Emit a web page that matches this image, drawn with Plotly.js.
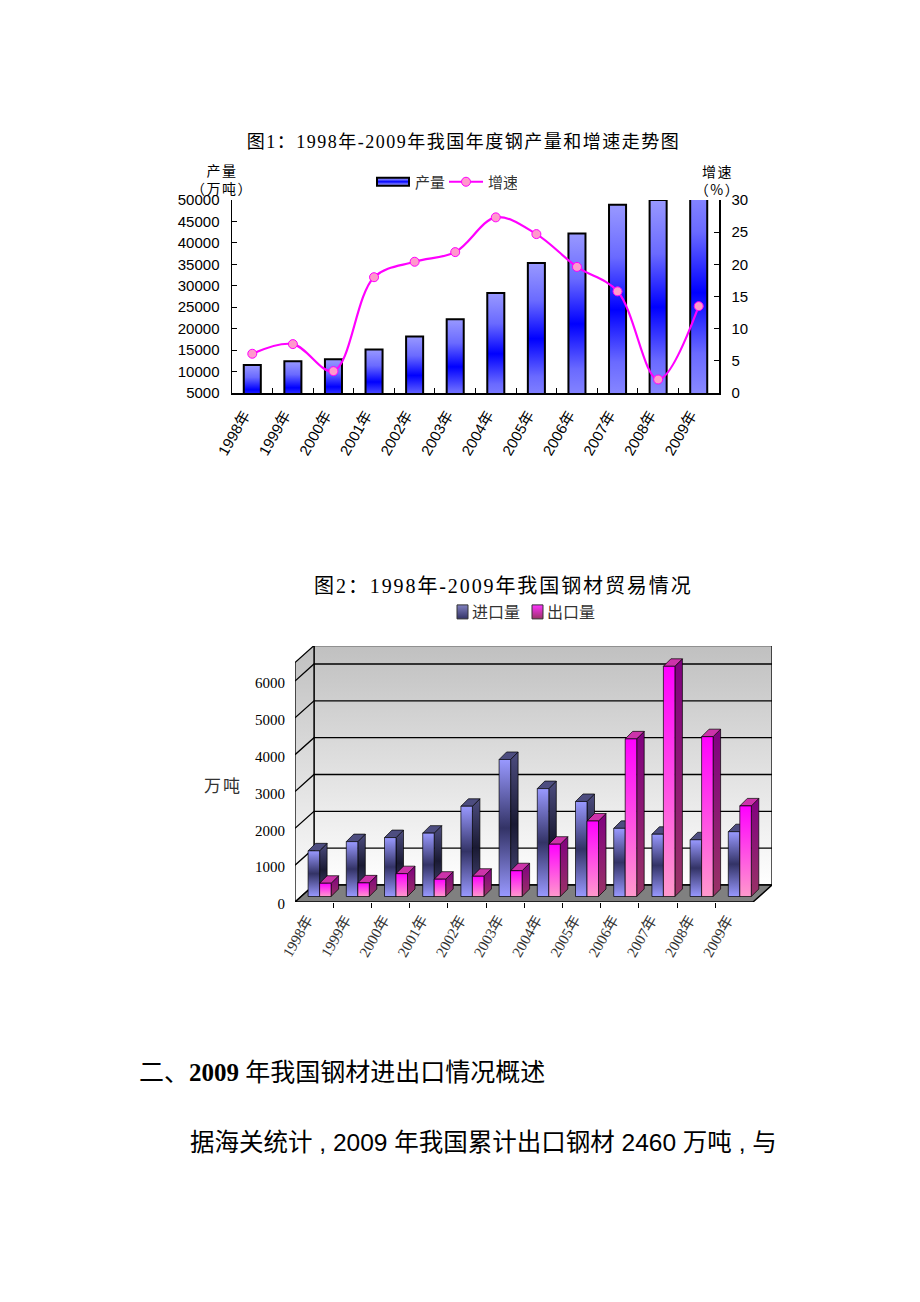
<!DOCTYPE html>
<html>
<head>
<meta charset="utf-8">
<script src="https://cdn.plot.ly/plotly-3.0.1.min.js"></script>
<style>
html, body { margin: 0; padding: 0; background: #fff; overflow: hidden; }
#chart { width: 920px; height: 1302px; }
</style>
</head>
<body>
<div id="chart"></div>
<script>
// data
const years = ["1998年","1999年","2000年","2001年","2002年","2003年","2004年","2005年","2006年","2007年","2008年","2009年"];
const output = [11530,12430,12850,15150,18200,22200,28300,35300,42200,48900,50000,56800];
const growth = [6.1,7.6,3.4,18.0,20.4,21.9,27.3,24.7,19.6,15.8,2.1,13.5];
const imports = [1240,1490,1600,1720,2450,3720,2930,2580,1850,1690,1540,1760];
const exports_ = [360,370,620,470,550,700,1420,2050,4280,6250,4340,2460];

const W = 920, H = 1302;
const CJK = '"Noto Sans CJK SC"';
const SANS = '"Liberation Sans",' + CJK;
const SERIF = '"Liberation Serif",' + CJK;
const outputMax = 50000;

function px(x) { return x / W; }
function py(y) { return 1 - y / H; }

let traces = [];

// chart 1: production bars and growth line
traces.push({
    type: 'bar', name: '产量', x: years, y: output, xaxis: 'x', yaxis: 'y',
    width: 0.42, marker: {color: '#9999ff', line: {width: 0}},
    showlegend: true, legend: 'legend', hoverinfo: 'skip'
});
traces.push({
    type: 'bar', x: years, y: output, xaxis: 'x', yaxis: 'y',
    width: 0.42, marker: {color: 'rgba(0,0,0,0)', line: {color: '#000', width: 2}},
    showlegend: false, hoverinfo: 'skip'
});
// part of a bar that runs past the axis top: flat colour, no outline
years.forEach(function(y, i) {
    if (output[i] > outputMax) {
        traces.push({
            type: 'scatter', mode: 'lines', x: [y, y], y: [outputMax, output[i]], xaxis: 'x', yaxis: 'y',
            line: {color: '#9999ff', width: 17}, cliponaxis: false, showlegend: false, hoverinfo: 'skip'
        });
    }
});
traces.push({
    type: 'scatter', name: '增速', x: years, y: growth, xaxis: 'x', yaxis: 'y2',
    mode: 'lines+markers',
    line: {color: '#ff00ff', width: 2.2, shape: 'spline', smoothing: 1},
    marker: {color: '#ff99cc', size: 9, line: {color: '#ff00ff', width: 1}},
    legend: 'legend', hoverinfo: 'skip'
});

// chart 2: fake 3d, everything goes through xaxis2/yaxis3 data units
const catPx = 38.2, unitPx = 0.03683;
const wallX = 19 / catPx, wallY = 17 / unitPx;
const barInX = 5.5 / catPx, barInY = 5.5 / unitPx;
const barDepX = 7.5 / catPx, barDepY = 7.5 / unitPx;
const barW = 11.5 / catPx;
const x2Max = 477 / catPx, y2Max = 256 / unitPx;
const topVal = 6500, gridVals = [1000,2000,3000,4000,5000,6000];

function poly(xs, ys, style) {
    traces.push(Object.assign({
        type: 'scatter', mode: 'lines', x: xs.concat(xs[0]), y: ys.concat(ys[0]),
        xaxis: 'x2', yaxis: 'y3', fill: 'toself', showlegend: false, hoverinfo: 'skip',
        cliponaxis: false, line: {color: '#000', width: 1.3}
    }, style));
}
function vgrad(stops) {
    let n = stops.length - 1;
    return {type: 'vertical', colorscale: stops.map((c, i) => [i / n, c])};
}

// back wall, left wall, floor
poly([wallX, x2Max, x2Max, wallX], [wallY, wallY, topVal + wallY, topVal + wallY],
    {fillgradient: vgrad(['#ffffff', '#c0c0c0'])});
poly([0, wallX, wallX, 0], [0, wallY, topVal + wallY, topVal],
    {fillgradient: vgrad(['#ffffff', '#c0c0c0'])});
poly([0, x2Max - wallX, x2Max, wallX], [0, 0, wallY, wallY], {fillcolor: '#808080', line: {color: '#000', width: 1.5}});

gridVals.forEach(function(v) {
    traces.push({
        type: 'scatter', mode: 'lines', x: [0, wallX, x2Max], y: [v, v + wallY, v + wallY],
        xaxis: 'x2', yaxis: 'y3', line: {color: '#000', width: 1.3},
        showlegend: false, hoverinfo: 'skip', cliponaxis: false
    });
});

function bar3d(x0, v, front, side, top) {
    let x1 = x0 + barW, b = barInY;
    // side face
    poly([x1, x1 + barDepX, x1 + barDepX, x1], [b, b + barDepY, b + barDepY + v, b + v],
        {fillgradient: vgrad(side), line: {color: '#000', width: 0.7}});
    // top face
    poly([x0, x1, x1 + barDepX, x0 + barDepX], [b + v, b + v, b + v + barDepY, b + v + barDepY],
        {fillcolor: top, line: {color: '#000', width: 0.7}});
    // front face
    poly([x0, x1, x1, x0], [b, b, b + v, b + v],
        {fillgradient: vgrad(front), line: {color: '#000', width: 0.7}});
}

years.forEach(function(y, i) {
    let mid = i + 0.5 + barInX;
    bar3d(mid - barW, imports[i], ['#9999ff', '#333366', '#9999ff'], ['#4d4d80', '#1a1a33', '#4d4d80'], '#4d4d80');
    bar3d(mid, exports_[i], ['#ff99cc', '#ff00ff'], ['#993366', '#800080'], '#cc33aa');
});

// legend entries for chart 2 only, the 3d faces above stay out of the legend
traces.push({type: 'bar', name: '进口量', x: [null], y: [null], xaxis: 'x2', yaxis: 'y3', legend: 'legend2', marker: {color: '#666699'}, hoverinfo: 'skip'});
traces.push({type: 'bar', name: '出口量', x: [null], y: [null], xaxis: 'x2', yaxis: 'y3', legend: 'legend2', marker: {color: '#ff33cc'}, hoverinfo: 'skip'});

const catTicks = years.map((y, i) => i + 0.5);
const catEdges = years.map((y, i) => i + 1).slice(0, 11);

let layout = {
    width: W, height: H,
    margin: {l: 0, r: 0, t: 0, b: 0},
    paper_bgcolor: '#fff', plot_bgcolor: 'rgba(0,0,0,0)',
    barmode: 'overlay', showlegend: true,
    font: {family: SANS, color: '#000', size: 14},

    xaxis: {
        domain: [px(232), px(719)], anchor: 'y', type: 'category', tickson: 'boundaries', range: [-0.5, 11.5],
        ticks: 'inside', ticklen: 5, tickcolor: '#000', showline: true, linecolor: '#000', linewidth: 1.5,
        tickangle: -60, tickfont: {family: SANS, size: 15, color: '#000'}, showgrid: false, zeroline: false,
        ticklabelstandoff: 6, ticklabelshift: -8
    },
    yaxis: {
        domain: [py(393), py(200)], anchor: 'x', range: [5000, outputMax], dtick: 5000, tick0: 5000,
        ticks: 'inside', ticklen: 5, tickcolor: '#000', showline: true, linecolor: '#000', linewidth: 1.5,
        tickfont: {family: SANS, size: 15, color: '#000'}, tickformat: 'd', showgrid: false, zeroline: false,
        ticklabelstandoff: 8
    },
    yaxis2: {
        overlaying: 'y', side: 'right', anchor: 'x', range: [0, 30], dtick: 5,
        ticks: 'inside', ticklen: 5, tickcolor: '#000', showline: true, linecolor: '#000', linewidth: 1.5,
        tickfont: {family: SANS, size: 15, color: '#000'}, showgrid: false, zeroline: false,
        ticklabelstandoff: 8
    },
    legend: {
        x: px(371), y: py(182), xanchor: 'left', yanchor: 'middle', orientation: 'h',
        itemwidth: 34, entrywidth: 24, font: {family: CJK, size: 15, color: '#333'}, bgcolor: 'rgba(0,0,0,0)'
    },

    xaxis2: {
        domain: [px(295), px(772)], anchor: 'y3', range: [0, x2Max],
        tickmode: 'array', tickvals: catTicks, ticktext: years, ticks: '', ticklen: 0,
        tickangle: -60, tickfont: {family: SERIF, size: 15, color: '#333'},
        minor: {tickmode: 'array', tickvals: catEdges, ticks: 'outside', ticklen: 5, tickcolor: '#000'},
        showgrid: false, zeroline: false, ticklabelstandoff: 5, ticklabelshift: -7
    },
    yaxis3: {
        domain: [py(902), py(646)], anchor: 'x2', range: [0, y2Max],
        tickmode: 'array', tickvals: [0].concat(gridVals), ticks: '',
        tickfont: {family: SERIF, size: 15, color: '#000'}, showgrid: false, zeroline: false,
        ticklabelstandoff: 9, ticklabelshift: 2
    },
    legend2: {
        x: px(432), y: py(612), xanchor: 'left', yanchor: 'middle', orientation: 'h',
        itemwidth: 30, entrywidth: 30, font: {family: CJK, size: 16, color: '#333'}, bgcolor: 'rgba(0,0,0,0)'
    },

    annotations: [
        {text: '图1：1998年-2009年我国年度钢产量和增速走势图', x: px(463), y: py(142), font: {family: SERIF, size: 18}},
        {text: '产量<br>（万吨）', x: px(222), y: py(179), font: {family: CJK, size: 14}},
        {text: '增速<br>（%）', x: px(717), y: py(180), font: {family: CJK, size: 14}},
        {text: '图2：1998年-2009年我国钢材贸易情况', x: px(503), y: py(586), font: {family: SERIF, size: 20}},
        {text: '万吨', x: px(223), y: py(784), font: {family: CJK, size: 17, color: '#333'}},
        {text: '二、<b>2009</b> 年我国钢材进出口情况概述', x: px(137), y: py(1072), xanchor: 'left', font: {family: SERIF, size: 25}},
        {text: '据海关统计 , 2009 年我国累计出口钢材 2460 万吨 , 与', x: px(188), y: py(1142), xanchor: 'left', font: {family: SANS, size: 24.5}}
    ]
};
layout.annotations.forEach(function(a) {
    a.xref = 'paper'; a.yref = 'paper'; a.showarrow = false; a.yanchor = 'middle';
    if (!a.xanchor) a.xanchor = 'center';
});
const annoSpacing = [1.5, 1.5, 1.5, 1.9, 2, 0, 0];

function addGrad(defs, id, stops) {
    let g = document.createElementNS('http://www.w3.org/2000/svg', 'linearGradient');
    g.setAttribute('id', id);
    g.setAttribute('x1', 0); g.setAttribute('y1', 0); g.setAttribute('x2', 0); g.setAttribute('y2', 1);
    stops.forEach(function(c, i) {
        let s = document.createElementNS('http://www.w3.org/2000/svg', 'stop');
        s.setAttribute('offset', i / (stops.length - 1));
        s.setAttribute('stop-color', c);
        g.appendChild(s);
    });
    defs.appendChild(g);
}

Plotly.newPlot('chart', traces, layout, {displayModeBar: false, staticPlot: true}).then(function() {
    // plotly bars have no gradient fill, so set it on the drawn paths
    let defs = document.querySelector('#chart .main-svg defs');
    addGrad(defs, 'gBlue', ['#9999ff', '#6a6aff', '#0000ff', '#6a6aff', '#9999ff']);
    addGrad(defs, 'gImp', ['#8080c0', '#333366']);
    addGrad(defs, 'gExp', ['#ff33ff', '#993366']);
    let first = document.querySelectorAll('#chart .barlayer .trace')[0];
    first.querySelectorAll('.point path').forEach(function(p) { p.style.fill = 'url(#gBlue)'; });

    // legend swatches: wide bar for chart 1, small squares for chart 2
    let sw1 = document.querySelector('#chart .legend .legendpoints path');
    if (sw1) {
        sw1.setAttribute('d', 'M-16,4H16V-4H-16Z');
        sw1.style.fill = 'url(#gBlue)'; sw1.style.stroke = '#000'; sw1.style.strokeWidth = '2px';
    }
    document.querySelectorAll('#chart .legend2 .legendpoints path').forEach(function(p, i) {
        p.setAttribute('d', 'M5,7H16V-7H5Z');
        p.style.fill = i == 0 ? 'url(#gImp)' : 'url(#gExp)';
        p.style.stroke = '#333'; p.style.strokeWidth = '1px';
    });
    document.querySelectorAll('#chart .legend2 .legendtext').forEach(function(t) { t.style.letterSpacing = '1.5px'; });
    // entrywidth clips the spaced text otherwise
    document.querySelectorAll('#chart .legend2 .scrollbox').forEach(function(s) { s.removeAttribute('clip-path'); });

    // word-style character spacing in titles
    document.querySelectorAll('#chart .annotation-text').forEach(function(t, i) {
        if (annoSpacing[i]) t.style.letterSpacing = annoSpacing[i] + 'px';
    });
});
</script>
</body>
</html>
